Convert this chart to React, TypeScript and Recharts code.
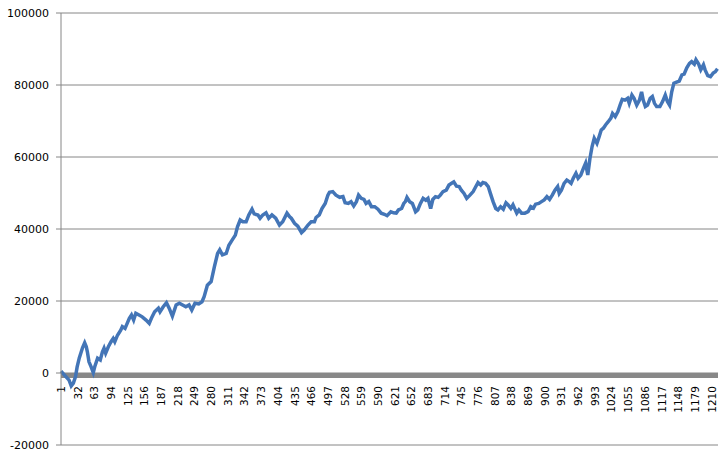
import React from "react";
import {
  LineChart,
  Line,
  XAxis,
  YAxis,
  CartesianGrid,
  ReferenceLine,
  ReferenceDot,
} from "recharts";

// step numbers (x) and cumulative values
const steps = [
  1, 10, 16, 20, 24, 28, 31, 35, 41, 45, 48, 50, 53, 57, 61, 64, 69, 74, 78, 81,
  84, 89, 94, 98, 101, 106, 112, 115, 120, 124, 128, 132, 136, 140, 146, 152, 159, 165, 169, 175,
  182, 185, 191, 197, 202, 208, 215, 221, 227, 233, 239, 244, 250, 257, 263, 267, 273, 280, 286, 292,
  296, 301, 308, 313, 319, 325, 329, 334, 339, 345, 350, 356, 360, 367, 371, 376, 382, 387, 393, 400,
  407, 413, 421, 426, 429, 435, 441, 448, 453, 460, 466, 472, 475, 481, 486, 492, 497, 500, 506, 512,
  519, 525, 529, 535, 540, 545, 550, 554, 559, 564, 568, 573, 578, 584, 590, 596, 602, 607, 614, 619,
  624, 628, 634, 638, 641, 644, 649, 654, 660, 664, 669, 674, 679, 683, 688, 692, 697, 702, 706, 711,
  717, 722, 727, 731, 736, 741, 745, 750, 755, 761, 767, 772, 776, 781, 785, 790, 795, 799, 804, 809,
  813, 818, 823, 828, 832, 837, 841, 848, 852, 857, 863, 869, 874, 879, 883, 889, 894, 899, 904, 909,
  914, 919, 924, 927, 931, 936, 941, 946, 949, 953, 958, 962, 967, 972, 976, 980, 984, 988, 992, 997,
  1001, 1005, 1009, 1013, 1018, 1023, 1026, 1031, 1036, 1040, 1044, 1049, 1054, 1057, 1062, 1066, 1071, 1076, 1080, 1083,
  1087, 1091, 1096, 1100, 1104, 1108, 1114, 1119, 1124, 1128, 1132, 1136, 1140, 1145, 1150, 1155, 1159, 1164, 1169, 1173,
  1178, 1181, 1186, 1190, 1195, 1198, 1203, 1208, 1213, 1217, 1221,
];

const equity = [
  500, -1000, -2000, -3600, -2800, -1000, 1700, 4200, 7000, 8400, 7300, 5900, 3100, 1700, 100, 1900, 4100, 3600, 5900, 6900,
  5500, 7300, 8700, 9600, 8700, 10500, 11900, 12900, 12400, 13800, 15200, 16100, 14700, 16600, 16100, 15600, 14700, 13800, 15200, 17000,
  18000, 17000, 18400, 19500, 18000, 15800, 18900, 19400, 18900, 18400, 18900, 17500, 19400, 19200, 19800, 21200, 24400, 25400, 29500, 33200,
  34200, 32800, 33200, 35500, 36900, 38300, 40600, 42500, 42000, 42000, 43900, 45500, 44200, 43900, 43000, 43900, 44500, 43000, 43900, 43000,
  41100, 42000, 44400, 43400, 43000, 41600, 40800, 39000, 39700, 41100, 42000, 42000, 43200, 43900, 45700, 47100, 49400, 50200, 50400, 49400,
  48800, 49000, 47300, 47100, 47600, 46400, 47600, 49400, 48500, 48200, 47100, 47600, 46200, 46200, 45500, 44400, 44100, 43700, 44800, 44500,
  44400, 45300, 45700, 47100, 47600, 48800, 47600, 47100, 44800, 45300, 47100, 48500, 48000, 48500, 45700, 48200, 49000, 48800, 49400, 50400,
  50800, 52200, 52700, 53100, 51900, 51800, 50800, 49900, 48500, 49400, 50400, 51800, 52900, 52200, 52900, 52700, 51800, 49900, 47600, 45700,
  45300, 46200, 45500, 47300, 46700, 45700, 46700, 44400, 45300, 44400, 44400, 44800, 46200, 45800, 46900, 47100, 47600, 48100, 49000, 48200,
  49400, 50800, 51800, 49900, 50800, 52700, 53600, 53100, 52700, 54100, 55500, 54100, 55000, 56900, 58300, 55000, 59600, 62900, 65200, 63800,
  65600, 67500, 68000, 68900, 69800, 70800, 72100, 71200, 72600, 74400, 76000, 75800, 76300, 74900, 77200, 76300, 74400, 75800, 78100, 75800,
  74000, 74400, 76300, 76800, 74900, 74000, 74000, 75400, 77200, 75400, 74400, 78100, 80500, 80800, 81100, 82800, 83000, 84800, 86000, 86500,
  85800, 87000, 85800, 84200, 85600, 84200, 82600, 82300, 83300, 83700, 84500,
];

const xTicks = [
  1, 32, 63, 94, 125, 156, 187, 218, 249, 280, 311, 342, 373, 404, 435, 466, 497, 528, 559, 590,
  621, 652, 683, 714, 745, 776, 807, 838, 869, 900, 931, 962, 993, 1024, 1055, 1086, 1117, 1148, 1179, 1210,
];

const yTicks = [-20000, 0, 20000, 40000, 60000, 80000, 100000];

const data = steps.map((s, i) => ({ step: s, equity: equity[i] }));

const GRID = "#868686";
const FONT = "'DejaVu Sans', Verdana, sans-serif";

// thick gray axis band sitting just under the zero value
const ZeroBand = (p: any) => (
  <rect
    x={Math.min(p.x1, p.x2)}
    y={p.y1}
    width={Math.abs(p.x2 - p.x1)}
    height={5}
    fill="#888888"
  />
);

// rotated category label hanging below the zero line
const StepLabel = ({ viewBox, value }: any) => {
  const cx = viewBox.x + (viewBox.width || 0) / 2;
  const y = viewBox.y + 13;
  return (
    <text
      x={cx}
      y={y}
      transform={`rotate(-90, ${cx}, ${y})`}
      textAnchor="end"
      dominantBaseline="central"
      fontSize={10.5}
      fontFamily={FONT}
      fill="#000"
    >
      {value}
    </text>
  );
};

export default function App() {
  return (
    <div style={{ position: "absolute", left: 0, top: 0, background: "#fff" }}>
      <LineChart
        width={728}
        height={458}
        data={data}
        margin={{ top: 13, right: 10, bottom: 13, left: 0 }}
      >
        <CartesianGrid vertical={false} stroke={GRID} strokeDasharray="" />
        <XAxis
          dataKey="step"
          type="number"
          domain={[1, 1222]}
          hide
        />
        <YAxis
          domain={[-20000, 100000]}
          ticks={yTicks}
          width={61}
          tickSize={5}
          tickMargin={7}
          axisLine={{ stroke: GRID }}
          tickLine={{ stroke: GRID }}
          tick={{ fill: "#000", fontSize: 11, fontFamily: FONT }}
          interval={0}
        />
        <ReferenceLine y={0} stroke="#888888" shape={ZeroBand} />
        {xTicks.map((t) => (
          <ReferenceDot
            key={t}
            x={t}
            y={0}
            r={0}
            fill="none"
            stroke="none"
            label={(p: any) => <StepLabel viewBox={p.viewBox} value={t} />}
          />
        ))}
        <Line
          type="linear"
          dataKey="equity"
          stroke="#4375B7"
          strokeWidth={3.5}
          dot={false}
          isAnimationActive={false}
        />
      </LineChart>
    </div>
  );
}
